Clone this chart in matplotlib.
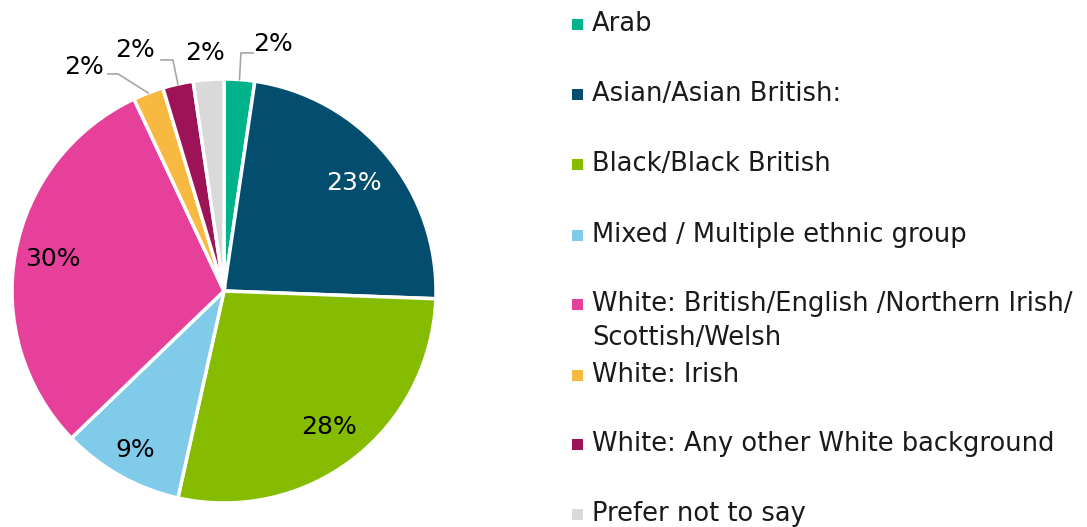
import numpy as np
import matplotlib
matplotlib.use("Agg")
import matplotlib.pyplot as plt

plt.rcParams['font.family'] = ['DejaVu Sans']

# Respondent counts by ethnic group
groups = [
    "Arab",
    "Asian/Asian British:",
    "Black/Black British",
    "Mixed / Multiple ethnic group",
    "White: British/English /Northern Irish/\nScottish/Welsh",
    "White: Irish",
    "White: Any other White background",
    "Prefer not to say",
]
counts = [1, 10, 12, 4, 13, 1, 1, 1]
colors = ["#00B38A", "#034E6E", "#86BC00", "#80CBEA",
          "#E6409A", "#F8B941", "#9C1457", "#D9D9D9"]
label_colors = ["black", "white", "black", "black",
                "black", "black", "black", "black"]

W, H = 1087, 527
fig = plt.figure(figsize=(W / 100, H / 100), dpi=100)

# pie axes: centre (224, 291) px, radius 212 px
cx, cy, r = 224, 291, 212
ax = fig.add_axes([(cx - r) / W, (H - cy - r) / H, 2 * r / W, 2 * r / H])

wedges, _ = ax.pie(counts, colors=colors, startangle=90, counterclock=False,
                   radius=1.0,
                   wedgeprops=dict(edgecolor="white", linewidth=2.5))
ax.set_xlim(-1, 1)
ax.set_ylim(-1, 1)
ax.set_aspect("equal")
ax.axis("off")

total = sum(counts)
pcts = [100 * c / total for c in counts]

# label layout: inside wedges for large slices, outside with leaders for small ones
inside_dist = {1: 0.80, 2: 0.81, 3: 0.86, 4: 0.82}
outside_pos = {0: (0.231, 1.165), 7: (-0.090, 1.125),
               6: (-0.420, 1.137), 5: (-0.660, 1.057)}
leader_elbow = {0: [(0.080, 1.123), (0.137, 1.123)],
                6: [(-0.241, 1.090), (-0.297, 1.090)],
                5: [(-0.500, 1.024), (-0.547, 1.024)]}

fs_label = 18
for i, w in enumerate(wedges):
    mid = np.deg2rad((w.theta1 + w.theta2) / 2)
    text = f"{pcts[i]:.0f}%"
    if i in inside_dist:
        d = inside_dist[i]
        ax.text(d * np.cos(mid), d * np.sin(mid), text, ha="center", va="center",
                fontsize=fs_label, color=label_colors[i])
    else:
        x, y = outside_pos[i]
        ax.text(x, y, text, ha="center", va="center", fontsize=fs_label,
                color=label_colors[i], clip_on=False)
        if i in leader_elbow:
            pts = [(np.cos(mid), np.sin(mid))] + leader_elbow[i]
            xs, ys = zip(*pts)
            ax.plot(xs, ys, color="#A6A6A6", lw=1.2, clip_on=False)

# legend drawn as a column of squares and labels
leg_rows_px = [24, 94, 164, 235, 304, 375, 444, 514]
line_step_px = 34
sq_x0, sq_size, text_x = 572, 11, 592
fs_legend = 18.5
for i, (lab, col) in enumerate(zip(groups, colors)):
    yc = leg_rows_px[i]
    fig.patches.append(plt.Rectangle((sq_x0 / W, (H - yc - sq_size / 2) / H),
                                     sq_size / W, sq_size / H,
                                     transform=fig.transFigure, color=col, lw=0))
    for j, line in enumerate(lab.split("\n")):
        fig.text(text_x / W, (H - yc - j * line_step_px) / H, line,
                 ha="left", va="center", fontsize=fs_legend, color="#1a1a1a")

fig.savefig("out.png", dpi=100, facecolor="white")
